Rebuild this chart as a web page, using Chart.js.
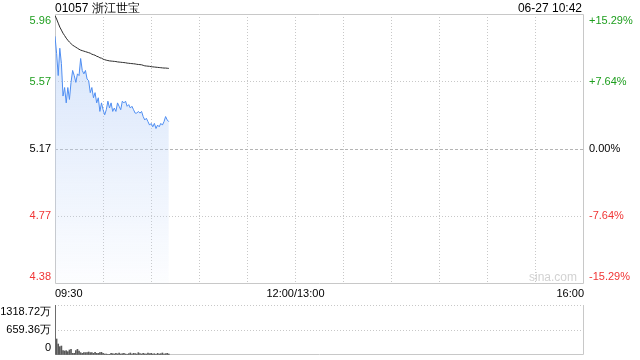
<!DOCTYPE html>
<html>
<head>
<meta charset="utf-8">
<script src="https://cdn.jsdelivr.net/npm/chart.js@4.4.0/dist/chart.umd.min.js"></script>
<style>
    body { margin: 0; width: 640px; height: 360px; background: #fff; position: relative; overflow: hidden; font-family: "Liberation Sans", Arial, sans-serif; }
    canvas { position: absolute; left: 0; }
    #priceChart { top: 0; }
    #volumeChart { top: 300px; }
    .txt { position: absolute; font-size: 12px; line-height: 14px; color: #000; white-space: nowrap; }
    #title { left: 55px; top: 1px; }
    #stamp { right: 58px; top: 1px; }
    #mark { right: 63px; top: 270px; color: #d2d2d2; }
</style>
</head>
<body>
<canvas id="priceChart" width="640" height="300"></canvas>
<canvas id="volumeChart" width="640" height="60"></canvas>
<div class="txt" id="title">01057 浙江世宝</div>
<div class="txt" id="stamp">06-27 10:42</div>
<div class="txt" id="mark">sina.com</div>

<script>
// 昨收 & 坐标轴刻度
const prevClose = 5.17;
const pctTicks = [15.29, 7.64, 0, -7.64, -15.29];
const priceTickLabels = ['5.96', '5.57', '5.17', '4.77', '4.38'];
const pctTickLabels = ['+15.29%', '+7.64%', '0.00%', '-7.64%', '-15.29%'];
const sessionMinutes = 330;   // 09:30-12:00 + 13:00-16:00
const gridStepMinutes = 30;
const xTickMinutes = [0, 150, 330];
const xTickLabels = ['09:30', '12:00/13:00', '16:00'];
const volTicks = [1318.72, 659.36, 0];
const volTickLabels = ['1318.72万', '659.36万', '0'];

// 分时数据 (每分钟, 09:30 起)
const price = [
    5.83, 5.73, 5.60, 5.76, 5.67, 5.48, 5.53, 5.44, 5.53, 5.46,
    5.56, 5.63, 5.60, 5.56, 5.61, 5.60, 5.70, 5.63, 5.61, 5.63,
    5.58, 5.57, 5.50, 5.53, 5.47, 5.50, 5.44, 5.47, 5.39, 5.44,
    5.40, 5.37, 5.40, 5.45, 5.41, 5.44, 5.39, 5.41, 5.39, 5.44,
    5.42, 5.40, 5.45, 5.44, 5.45, 5.42, 5.43, 5.41, 5.42, 5.40,
    5.38, 5.38, 5.39, 5.38, 5.39, 5.36, 5.34, 5.35, 5.33, 5.31,
    5.32, 5.30, 5.32, 5.29, 5.31, 5.30, 5.32, 5.31, 5.33, 5.36,
    5.34, 5.33
];
const avgPrice = [
    5.951, 5.931, 5.907, 5.884, 5.866, 5.848, 5.834, 5.819, 5.807, 5.796,
    5.787, 5.778, 5.772, 5.766, 5.760, 5.754, 5.749, 5.746, 5.743, 5.740,
    5.737, 5.734, 5.731, 5.725, 5.722, 5.719, 5.713, 5.710, 5.704, 5.702,
    5.696, 5.693, 5.690, 5.688, 5.686, 5.685, 5.684, 5.683, 5.682, 5.680,
    5.679, 5.678, 5.677, 5.676, 5.675, 5.673, 5.672, 5.671, 5.670, 5.669,
    5.668, 5.666, 5.665, 5.664, 5.663, 5.660, 5.657, 5.656, 5.655, 5.654,
    5.652, 5.651, 5.650, 5.649, 5.648, 5.647, 5.646, 5.645, 5.644, 5.644,
    5.643, 5.642
];
// 成交量 (万)
const volume = [
    1318.72, 422, 290, 220, 237, 114, 105, 114, 88, 132,
    150, 44, 44, 114, 150, 105, 62, 44, 62, 62,
    62, 79, 62, 62, 44, 70, 44, 44, 62, 70,
    44, 26, 26, 8, 18, 44, 35, 26, 44, 30,
    53, 26, 35, 44, 26, 18, 35, 53, 26, 44,
    35, 26, 62, 35, 26, 44, 30, 26, 53, 35,
    44, 26, 35, 18, 44, 26, 35, 53, 26, 35,
    44, 26
];

Chart.defaults.font.family = '"Liberation Sans", Arial, sans-serif';
Chart.defaults.font.size = 11;
Chart.defaults.color = '#000';

const GREEN = '#1e9e1e';
const RED = '#f03535';
const yTickColors = [GREEN, GREEN, '#000', RED, RED];

// 上下两端的标签往内收半行
function edgeLabel(text, i, n) {
    if (i === 0) return ['', text];
    if (i === n - 1) return [text, ''];
    return text;
}

function toPoints(arr) {
    return arr.map((v, i) => ({ x: i, y: v }));
}

const framePlugin = {
    id: 'frame',
    beforeDatasetsDraw(chart, args, opts) {
        const { ctx, chartArea: a } = chart;
        const l = Math.round(a.left) + 0.5, r = Math.round(a.right) - 0.5;
        const t = Math.round(a.top) + 0.5, b = Math.round(a.bottom) - 0.5;
        ctx.save();
        ctx.strokeStyle = '#c8c8c8';
        ctx.lineWidth = 1;
        ctx.beginPath();
        if (opts.top) { ctx.moveTo(l, t); ctx.lineTo(r, t); }
        ctx.moveTo(l, t); ctx.lineTo(l, b); ctx.lineTo(r, b); ctx.lineTo(r, t);
        ctx.stroke();
        ctx.restore();
    }
};

function createPriceChart() {
    const ctx = document.getElementById('priceChart');
    const yTicks = pctTicks.map(p => prevClose * (1 + p / 100));
    const yMin = Math.min(...yTicks), yMax = Math.max(...yTicks);

    const fitY = w => s => { s.width = w; s.paddingTop = 0; s.paddingBottom = 0; };
    const setYTicks = s => { s.ticks = yTicks.map(v => ({ value: v })); };

    new Chart(ctx, {
        type: 'line',
        data: {
            datasets: [
                {
                    label: '均价',
                    data: toPoints(avgPrice),
                    borderColor: '#2b2b2b',
                    borderWidth: 1,
                    pointRadius: 0,
                    fill: false
                },
                {
                    label: '价格',
                    data: toPoints(price),
                    borderColor: '#4f8ef2',
                    borderWidth: 1,
                    pointRadius: 0,
                    fill: 'start',
                    backgroundColor: c => {
                        const a = c.chart.chartArea;
                        if (!a) return 'rgba(190,212,248,0.4)';
                        const g = c.chart.ctx.createLinearGradient(0, a.top, 0, a.bottom);
                        g.addColorStop(0, 'rgba(190,212,248,0.65)');
                        g.addColorStop(1, 'rgba(190,212,248,0.04)');
                        return g;
                    }
                }
            ]
        },
        options: {
            responsive: false,
            animation: false,
            layout: { padding: { top: 14 } },
            plugins: { legend: { display: false }, tooltip: { enabled: false }, frame: { top: true } },
            scales: {
                x: {
                    type: 'linear',
                    min: 0,
                    max: sessionMinutes,
                    afterBuildTicks: s => {
                        const t = [];
                        for (let m = 0; m <= sessionMinutes; m += gridStepMinutes) t.push({ value: m });
                        s.ticks = t;
                    },
                    afterFit: s => { s.height = 16; s.paddingLeft = 0; s.paddingRight = 0; },
                    ticks: {
                        autoSkip: false,
                        maxRotation: 0,
                        align: 'inner',
                        padding: 3,
                        color: '#000',
                        callback: v => {
                            const k = xTickMinutes.indexOf(v);
                            return k >= 0 ? xTickLabels[k] : '';
                        }
                    },
                    grid: {
                        drawTicks: false,
                        color: c => (c.index === 0 || c.tick && c.tick.value === sessionMinutes) ? 'rgba(0,0,0,0)' : '#c8c8c8'
                    },
                    border: { display: false, dash: [1, 2] }
                },
                y: {
                    position: 'left',
                    min: yMin,
                    max: yMax,
                    afterBuildTicks: setYTicks,
                    afterFit: fitY(55),
                    ticks: {
                        autoSkip: false,
                        padding: 4,
                        color: c => yTickColors[c.index],
                        callback: (v, i, t) => edgeLabel(priceTickLabels[i], i, t.length)
                    },
                    grid: {
                        drawTicks: false,
                        color: c => {
                            if (c.index === 0 || c.index === yTicks.length - 1) return 'rgba(0,0,0,0)';
                            return c.index === 2 ? '#b4b4b4' : '#c8c8c8';
                        }
                    },
                    border: { display: false, dash: c => c.index === 2 ? [3, 2] : [1, 2] }
                },
                y2: {
                    position: 'right',
                    min: yMin,
                    max: yMax,
                    afterBuildTicks: setYTicks,
                    afterFit: fitY(56),
                    ticks: {
                        autoSkip: false,
                        padding: 5,
                        color: c => yTickColors[c.index],
                        callback: (v, i, t) => edgeLabel(pctTickLabels[i], i, t.length)
                    },
                    grid: { display: false, drawTicks: false },
                    border: { display: false }
                }
            }
        },
        plugins: [framePlugin]
    });
}

function createVolumeChart() {
    const ctx = document.getElementById('volumeChart');

    new Chart(ctx, {
        type: 'bar',
        data: {
            datasets: [{
                label: '成交量',
                data: toPoints(volume),
                backgroundColor: '#5a5a5a',
                barThickness: 1
            }]
        },
        options: {
            responsive: false,
            animation: false,
            layout: { padding: { top: 5, bottom: 5, right: 56 } },
            plugins: { legend: { display: false }, tooltip: { enabled: false }, frame: { top: false } },
            scales: {
                x: { type: 'linear', min: 0, max: sessionMinutes, offset: false, display: false },
                y: {
                    min: 0,
                    max: volTicks[0],
                    afterBuildTicks: s => { s.ticks = volTicks.map(v => ({ value: v })); },
                    afterFit: s => { s.width = 55; s.paddingTop = 0; s.paddingBottom = 0; },
                    ticks: {
                        autoSkip: false,
                        padding: 4,
                        color: '#000',
                        callback: (v, i, t) => edgeLabel(volTickLabels[i], i, t.length)
                    },
                    grid: {
                        drawTicks: false,
                        color: c => c.index === volTicks.length - 1 ? 'rgba(0,0,0,0)' : '#c8c8c8'
                    },
                    border: { display: false, dash: [1, 2] }
                }
            }
        },
        plugins: [framePlugin]
    });
}

createPriceChart();
createVolumeChart();
</script>
</body>
</html>
